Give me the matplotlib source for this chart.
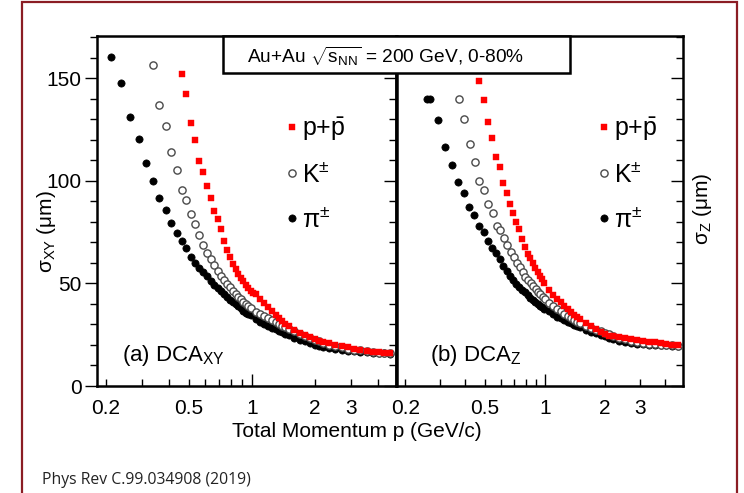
import matplotlib
matplotlib.use("Agg")
import matplotlib.pyplot as plt
from matplotlib.patches import Rectangle
from matplotlib.ticker import FixedLocator, FixedFormatter

plt.rcParams['font.family'] = ['Liberation Sans', 'DejaVu Sans']
plt.rcParams['mathtext.fontset'] = 'custom'
plt.rcParams['mathtext.rm'] = 'Liberation Sans'
plt.rcParams['mathtext.it'] = 'Liberation Sans:italic'
plt.rcParams['mathtext.bf'] = 'Liberation Sans:bold'

# ---------------- data: (a) DCA_XY ----------------
xy_pi_p = [0.213, 0.238, 0.263, 0.288, 0.312, 0.337, 0.362, 0.388, 0.413, 0.437, 0.462, 0.487,
           0.512, 0.537, 0.562, 0.587, 0.612, 0.637, 0.662, 0.687, 0.712, 0.737, 0.762, 0.787,
           0.812, 0.837, 0.862, 0.887, 0.912, 0.937, 0.962, 0.987, 1.05, 1.10, 1.15, 1.20,
           1.25, 1.30, 1.35, 1.40, 1.45, 1.50, 1.60, 1.70, 1.80, 1.90, 2.00, 2.10, 2.20, 2.35,
           2.50, 2.70, 2.90, 3.10, 3.30, 3.55, 3.80, 4.05, 4.30, 4.60]
xy_pi_s = [160.3, 147.6, 131.0, 120.4, 108.7, 100.1, 91.5, 85.8, 79.5, 74.7, 70.4, 67.0,
           63.0, 60.1, 57.4, 55.7, 53.5, 51.2, 49.3, 47.6, 46.2, 44.8, 43.3, 41.9,
           41.0, 40.0, 38.8, 37.8, 36.7, 35.8, 35.1, 34.4, 32.5, 31.4, 30.3, 29.2,
           28.4, 27.6, 26.9, 26.2, 25.5, 24.9, 23.6, 22.6, 21.7, 20.8, 20.1, 19.5, 19.0, 18.5,
           18.1, 17.6, 17.2, 16.9, 16.6, 16.4, 16.2, 16.0, 15.9, 15.8]

xy_k_p = [0.337, 0.362, 0.387, 0.412, 0.437, 0.462, 0.487, 0.512, 0.537, 0.562, 0.587, 0.612,
          0.637, 0.662, 0.687, 0.712, 0.737, 0.762, 0.787, 0.812, 0.837, 0.862, 0.887, 0.912,
          0.937, 0.962, 0.987, 1.05, 1.10, 1.15, 1.20, 1.25, 1.30, 1.35, 1.40, 1.45, 1.50,
          1.60, 1.70, 1.80, 1.90, 2.00, 2.10, 2.20, 2.35, 2.50, 2.70, 2.90, 3.10, 3.30, 3.55,
          3.80, 4.05, 4.30, 4.60]
xy_k_s = [156.2, 137.0, 126.6, 113.9, 105.0, 95.6, 90.7, 83.7, 79.0, 73.6, 68.5, 64.8,
          61.8, 58.8, 56.2, 53.8, 51.5, 49.7, 48.0, 46.2, 44.8, 43.4, 42.2, 41.0,
          40.0, 39.0, 38.0, 36.2, 35.0, 34.0, 33.0, 32.0, 31.0, 30.2, 29.3, 28.6, 28.0,
          26.6, 25.5, 24.4, 23.5, 22.6, 21.8, 21.0, 20.2, 19.5, 18.8, 18.2, 17.7, 17.3, 16.9,
          16.6, 16.3, 16.1, 15.9]

xy_pr_p = [0.462, 0.487, 0.512, 0.537, 0.562, 0.587, 0.612, 0.637, 0.662, 0.687, 0.712, 0.737,
           0.762, 0.787, 0.812, 0.837, 0.862, 0.887, 0.912, 0.937, 0.962, 0.987, 1.012, 1.05,
           1.10, 1.15, 1.20, 1.25, 1.30, 1.35, 1.40, 1.45, 1.50, 1.60, 1.70, 1.80, 1.90, 2.00,
           2.10, 2.20, 2.35, 2.50, 2.70, 2.90, 3.10, 3.30, 3.55, 3.80, 4.05, 4.30, 4.60]
xy_pr_s = [152.1, 142.2, 128.1, 119.9, 109.8, 104.2, 97.2, 91.5, 85.3, 81.3, 76.7, 70.5,
           66.2, 62.6, 59.5, 57.0, 54.7, 52.8, 51.0, 49.2, 47.6, 46.3, 45.3, 44.6,
           42.5, 40.5, 38.5, 36.6, 34.8, 33.0, 31.5, 30.2, 29.1, 27.4, 26.0, 24.7, 23.7, 22.9,
           22.1, 21.5, 20.8, 20.2, 19.5, 18.8, 18.2, 17.7, 17.2, 16.8, 16.5, 16.2, 16.0]

# ---------------- data: (b) DCA_Z ----------------
z_pi_p = [0.258, 0.266, 0.293, 0.318, 0.343, 0.368, 0.393, 0.418, 0.443, 0.468, 0.493, 0.518,
          0.543, 0.568, 0.593, 0.618, 0.643, 0.668, 0.693, 0.718, 0.743, 0.768, 0.793, 0.818,
          0.843, 0.868, 0.893, 0.918, 0.943, 0.968, 0.993, 1.05, 1.10, 1.15, 1.20, 1.25,
          1.30, 1.35, 1.40, 1.45, 1.50, 1.60, 1.70, 1.80, 1.90, 2.00, 2.10, 2.20, 2.35, 2.50,
          2.70, 2.90, 3.10, 3.30, 3.55, 3.80, 4.05, 4.30, 4.60]
z_pi_s = [140.0, 140.0, 129.4, 116.4, 107.8, 99.3, 94.0, 87.4, 83.4, 77.7, 75.0, 70.8,
          67.3, 64.6, 61.8, 58.6, 55.8, 53.5, 51.5, 49.6, 48.1, 46.8, 45.6, 44.4,
          43.1, 41.9, 41.0, 40.0, 39.2, 38.5, 37.7, 36.3, 35.0, 33.8, 32.9, 32.0,
          31.3, 30.5, 29.6, 29.1, 28.5, 27.3, 26.3, 25.6, 24.9, 24.2, 23.5, 22.9, 22.1, 21.5,
          21.0, 20.7, 20.4, 20.2, 20.1, 19.9, 19.8, 19.7, 19.6]

z_k_p = [0.370, 0.395, 0.420, 0.447, 0.469, 0.497, 0.521, 0.548, 0.573, 0.598, 0.623, 0.648,
         0.673, 0.698, 0.723, 0.748, 0.773, 0.798, 0.823, 0.848, 0.873, 0.898, 0.923, 0.948,
         0.973, 0.998, 1.05, 1.10, 1.15, 1.20, 1.25, 1.30, 1.35, 1.40, 1.45, 1.50, 1.60,
         1.70, 1.80, 1.90, 2.00, 2.10, 2.20, 2.35, 2.50, 2.70, 2.90, 3.10, 3.30, 3.55, 3.80,
         4.05, 4.30, 4.60]
z_k_s = [139.9, 130.0, 117.8, 109.1, 99.9, 95.6, 88.7, 84.2, 78.0, 76.0, 72.2, 68.5,
         65.5, 62.6, 60.1, 57.8, 55.5, 53.0, 51.5, 50.0, 48.6, 47.3, 45.9, 44.6,
         43.5, 42.3, 40.6, 39.0, 37.7, 36.5, 35.3, 34.0, 33.2, 32.2, 31.4, 30.7, 29.4,
         28.4, 27.5, 26.7, 25.9, 25.2, 24.6, 23.6, 22.8, 22.0, 21.4, 20.9, 20.6, 20.3, 20.1,
         19.9, 19.8, 19.7]

z_pr_p = [0.469, 0.494, 0.519, 0.544, 0.569, 0.594, 0.619, 0.644, 0.669, 0.694, 0.719, 0.744,
          0.769, 0.794, 0.819, 0.844, 0.869, 0.894, 0.919, 0.944, 0.969, 0.994, 1.05, 1.10,
          1.15, 1.20, 1.25, 1.30, 1.35, 1.40, 1.45, 1.50, 1.60, 1.70, 1.80, 1.90, 2.00, 2.10,
          2.20, 2.35, 2.50, 2.70, 2.90, 3.10, 3.30, 3.55, 3.80, 4.05, 4.30, 4.60]
z_pr_s = [148.4, 139.4, 128.4, 120.8, 111.5, 106.9, 98.8, 94.0, 88.7, 84.2, 80.1, 76.4,
          71.8, 67.8, 64.5, 62.3, 60.0, 57.7, 55.5, 53.6, 52.0, 50.0, 47.0, 44.4,
          42.6, 41.0, 39.0, 37.3, 36.0, 34.6, 33.5, 32.5, 30.6, 29.0, 27.6, 26.3, 25.3, 24.6,
          24.2, 23.8, 23.5, 23.0, 22.4, 22.0, 21.6, 21.2, 20.9, 20.5, 20.2, 20.0]

series_labels = [r'p+$\mathrm{\bar{p}}$', r'K$^{\pm}$', r'$\mathrm{\pi^{\pm}}$']
x_major = [1]
x_minor = [0.2, 0.3, 0.4, 0.5, 0.6, 0.7, 0.8, 0.9, 2, 3, 4]
x_minor_labels = ['0.2', '', '', '0.5', '', '', '', '', '2', '3', '']
y_major = [0, 50, 100, 150]
y_minor = [10, 20, 30, 40, 60, 70, 80, 90, 110, 120, 130, 140, 160, 170]

W, H = 744, 493
fig = plt.figure(figsize=(W / 100, H / 100), dpi=100)

def fx(px):
    return px / W

def fy(py):
    return 1 - py / H

ax1 = fig.add_axes([fx(97), fy(386), fx(396) - fx(97), fy(36) - fy(386)])
ax2 = fig.add_axes([fx(397), fy(386), fx(683) - fx(397), fy(36) - fy(386)])

def draw(ax, pi_p, pi_s, k_p, k_s, pr_p, pr_s, leg_x):
    h_pi, = ax.plot(pi_p, pi_s, 'o', ms=5.2, color='black', mec='black', mew=0.5, ls='none', zorder=3)
    h_k, = ax.plot(k_p, k_s, 'o', ms=5.2, mfc='white', mec='#4a4a4a', mew=1.0, ls='none', zorder=4)
    h_pr, = ax.plot(pr_p, pr_s, 's', ms=4.4, color='#ff0000', mec='#ff0000', mew=0.3, ls='none', zorder=5)
    ax.set_xscale('log')
    ax.set_xlim(0.182, 4.9)
    ax.set_ylim(0, 170.5)
    ax.xaxis.set_major_locator(FixedLocator(x_major))
    ax.xaxis.set_major_formatter(FixedFormatter(['1']))
    ax.xaxis.set_minor_locator(FixedLocator(x_minor))
    ax.xaxis.set_minor_formatter(FixedFormatter(x_minor_labels))
    ax.tick_params(axis='x', which='both', direction='in', bottom=True, top=False,
                   labelsize=15, pad=9, width=1.0)
    ax.tick_params(axis='x', which='major', length=9)
    ax.tick_params(axis='x', which='minor', length=5)
    ax.yaxis.set_major_locator(FixedLocator(y_major))
    ax.yaxis.set_minor_locator(FixedLocator(y_minor))
    for s in ax.spines.values():
        s.set_linewidth(1.8)
    ax.legend([h_pr, h_k, h_pi], series_labels, loc='upper left',
              bbox_to_anchor=(leg_x, 0.775), frameon=False, fontsize=18,
              handlelength=0.4, handletextpad=0.2, labelspacing=0.78,
              borderpad=0, borderaxespad=0, markerscale=1.0)

draw(ax1, xy_pi_p, xy_pi_s, xy_k_p, xy_k_s, xy_pr_p, xy_pr_s, 0.636)
draw(ax2, z_pi_p, z_pi_s, z_k_p, z_k_s, z_pr_p, z_pr_s, 0.705)

# left panel y ticks: outward on left with labels, inward on right
ax1.tick_params(axis='y', which='both', left=True, right=False, direction='out',
                labelsize=15, pad=2, width=1.0)
ax1.tick_params(axis='y', which='major', length=9)
ax1.tick_params(axis='y', which='minor', length=5)
sec = ax1.secondary_yaxis('right')
sec.yaxis.set_major_locator(FixedLocator(y_major))
sec.yaxis.set_minor_locator(FixedLocator(y_minor))
sec.tick_params(axis='y', which='both', direction='in', labelright=False, width=1.0)
sec.tick_params(axis='y', which='major', length=9)
sec.tick_params(axis='y', which='minor', length=5)
sec.spines['right'].set_linewidth(1.8)

ax2.tick_params(axis='y', which='both', left=False, right=True, direction='in',
                labelleft=False, labelright=False, width=1.0)
ax2.tick_params(axis='y', which='major', length=9)
ax2.tick_params(axis='y', which='minor', length=5)

# panel labels
ax1.text(0.083, 0.07, r'(a) DCA$_{\mathrm{XY}}$', transform=ax1.transAxes, fontsize=16,
         ha='left', va='baseline')
ax2.text(0.115, 0.07, r'(b) DCA$_{\mathrm{Z}}$', transform=ax2.transAxes, fontsize=16,
         ha='left', va='baseline')

# axis titles
fig.text(fx(232), fy(437), 'Total Momentum p (GeV/c)', fontsize=15, ha='left', va='baseline')
fig.text(fx(47), fy(232), r'$\mathrm{\sigma_{XY}}$ (μm)', fontsize=15, rotation=90,
         ha='center', va='center')
fig.text(fx(703), fy(209), r'$\mathrm{\sigma_{Z}}$ (μm)', fontsize=15, rotation=90,
         ha='center', va='center')

# header box
box = Rectangle((fx(223), fy(73)), fx(570) - fx(223), fy(36) - fy(73), transform=fig.transFigure,
                facecolor='white', edgecolor='black', lw=1.8, zorder=10)
fig.patches.append(box)
fig.text(fx(247), fy(56), r'Au+Au $\sqrt{\mathrm{s_{NN}}}$ = 200 GeV, 0-80%', fontsize=13.8,
         ha='left', va='center', zorder=11)

# footer and slide border
fig.text(fx(42), fy(484), 'Phys Rev C.99.034908 (2019)', fontsize=11.3,
         family=['Open Sans', 'DejaVu Sans'], color='#222222', ha='left', va='baseline')
border = Rectangle((fx(22), -0.05), fx(737) - fx(22), fy(2) + 0.05, transform=fig.transFigure,
                   facecolor='none', edgecolor='#8b1d24', lw=1.6, zorder=12)
fig.patches.append(border)

fig.savefig('out.png', dpi=100)
